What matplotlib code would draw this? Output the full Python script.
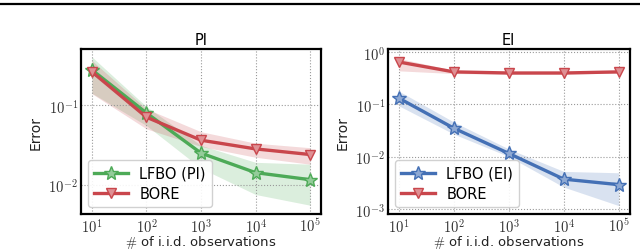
import matplotlib
matplotlib.use("Agg")
import matplotlib.pyplot as plt
from matplotlib.lines import Line2D
from matplotlib.colors import to_rgba

plt.rcParams['font.family'] = 'DejaVu Sans'
plt.rcParams['mathtext.fontset'] = 'cm'

# ====================
# data
# ====================
n_obs = [1e1, 1e2, 1e3, 1e4, 1e5]

pi_lfbo = [0.275, 0.079, 0.0248, 0.0141, 0.0115]
pi_lfbo_hi = [0.40, 0.095, 0.031, 0.019, 0.018]
pi_lfbo_lo = [0.14, 0.055, 0.016, 0.0075, 0.0055]
pi_bore = [0.26, 0.070, 0.036, 0.028, 0.0238]
pi_bore_hi = [0.36, 0.089, 0.046, 0.033, 0.029]
pi_bore_lo = [0.138, 0.050, 0.030, 0.022, 0.018]

ei_lfbo = [0.132, 0.035, 0.0115, 0.0037, 0.0029]
ei_lfbo_hi = [0.18, 0.046, 0.014, 0.0052, 0.0049]
ei_lfbo_lo = [0.094, 0.027, 0.010, 0.0026, 0.00115]
ei_bore = [0.65, 0.42, 0.40, 0.40, 0.42]
ei_bore_hi = [0.76, 0.45, 0.42, 0.42, 0.44]
ei_bore_lo = [0.44, 0.39, 0.38, 0.38, 0.40]

xtick_labels = [r'$10^{1}$', r'$10^{2}$', r'$10^{3}$', r'$10^{4}$', r'$10^{5}$']

GREEN = '#4DAA57'
RED = '#C9464C'
BLUE = '#4470B5'

fig = plt.figure(figsize=(6.4, 2.51), dpi=100)
ax1 = fig.add_axes([0.1266, 0.1434, 0.375, 0.657])
ax2 = fig.add_axes([0.606, 0.1434, 0.378, 0.657])

# page rule at the top
fig.add_artist(Line2D([0, 1], [0.98, 0.98], color='black', lw=1.6,
                      transform=fig.transFigure))


def light(c, a=0.45):
    r, g, b, _ = to_rgba(c)
    return (1 - a + a * r, 1 - a + a * g, 1 - a + a * b)


def draw(ax, series, title, ylim, yticks, ylabels):
    for y, lo, hi, c, m, lab in series:
        ax.fill_between(n_obs, lo, hi, color=c, alpha=0.2, lw=0)
        ax.plot(n_obs, y, color=c, lw=2.4, marker=m,
                markersize=10 if m == '*' else 7,
                markerfacecolor=light(c, 0.6), markeredgecolor=c, markeredgewidth=1.0,
                label=lab, zorder=3)
    ax.set_xscale('log')
    ax.set_yscale('log')
    ax.set_xlim(10 ** 0.8, 10 ** 5.2)
    ax.set_ylim(*ylim)
    ax.set_xticks(n_obs)
    ax.set_xticklabels(xtick_labels)
    ax.set_yticks(yticks)
    ax.set_yticklabels(ylabels)
    ax.minorticks_off()
    ax.tick_params(length=0, labelsize=10.5, colors='#333333', pad=2)
    ax.grid(True, ls=':', color='#999999', lw=0.8)
    for s in ax.spines.values():
        s.set_linewidth(1.6)
        s.set_color('black')
    ax.set_title(title, fontsize=10.5, pad=4)
    ax.set_ylabel('Error', fontsize=10, color='#222222')
    ax.set_xlabel(r'$\#$ of i.i.d. observations', fontsize=9.5, color='#222222',
                  labelpad=-1)
    ax.legend(loc='lower left', fontsize=10.5, handlelength=2.3, borderpad=0.4,
              labelspacing=0.35, frameon=True, fancybox=True, edgecolor='#cccccc',
              framealpha=0.9)


draw(ax1,
     [(pi_lfbo, pi_lfbo_lo, pi_lfbo_hi, GREEN, '*', 'LFBO (PI)'),
      (pi_bore, pi_bore_lo, pi_bore_hi, RED, 'v', 'BORE')],
     'PI', (10 ** -2.37, 10 ** -0.30), [1e-2, 1e-1], [r'$10^{-2}$', r'$10^{-1}$'])

draw(ax2,
     [(ei_lfbo, ei_lfbo_lo, ei_lfbo_hi, BLUE, '*', 'LFBO (EI)'),
      (ei_bore, ei_bore_lo, ei_bore_hi, RED, 'v', 'BORE')],
     'EI', (10 ** -3.1, 10 ** 0.06), [1e-3, 1e-2, 1e-1, 1e0],
     [r'$10^{-3}$', r'$10^{-2}$', r'$10^{-1}$', r'$10^{0}$'])

fig.savefig('out.png', dpi=100, facecolor='white')
